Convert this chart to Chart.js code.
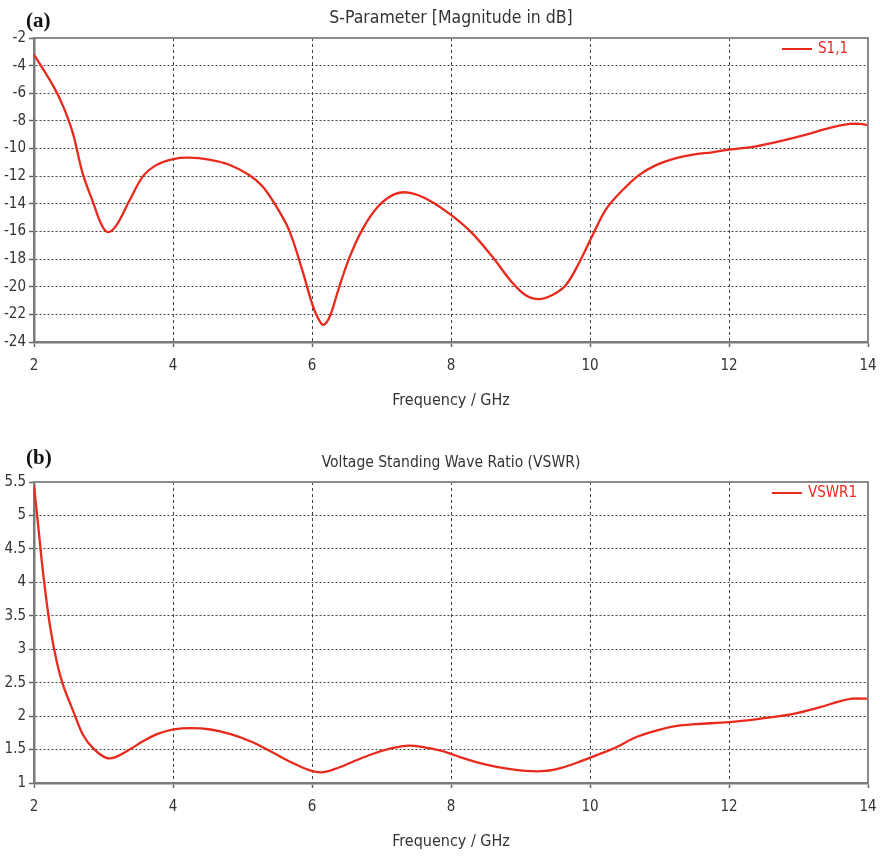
<!DOCTYPE html>
<html>
<head>
<meta charset="utf-8">
<script src="https://cdn.jsdelivr.net/npm/chart.js@4.4.0/dist/chart.umd.min.js"></script>
<style>
  body { margin: 0; background: #fff; }
  .panel { position: absolute; left: 0; width: 880px; }
</style>
</head>
<body>
<div class="panel" style="top:0;height:440px"><canvas id="s11_graph"></canvas></div>
<div class="panel" style="top:440px;height:416px"><canvas id="vswr_graph"></canvas></div>
<script>
// values
const s11Freq = [2.0, 2.28, 2.42, 2.56, 2.70, 2.85, 2.97, 3.06, 3.18, 3.37, 3.57, 3.76, 4.0, 4.23, 4.52, 4.81,
  5.09, 5.28, 5.47, 5.67, 5.86, 6.0, 6.10, 6.17, 6.26, 6.38, 6.53, 6.72, 6.95, 7.19, 7.41, 7.67, 8.0,
  8.30, 8.59, 8.88, 9.07, 9.26, 9.46, 9.65, 9.84, 10.03, 10.23, 10.47, 10.71, 10.95, 11.19, 11.48,
  11.76, 12.0, 12.39, 12.77, 13.11, 13.45, 13.74, 13.88, 14.0];
const s11Values = [-3.2, -5.5, -6.95, -8.9, -11.8, -13.9, -15.5, -16.05, -15.6, -13.8, -12.0, -11.2, -10.76, -10.66, -10.8, -11.17,
  -11.9, -12.7, -14.06, -15.9, -18.8, -21.2, -22.4, -22.75, -22.1, -20.2, -18.0, -15.9, -14.2, -13.3, -13.2, -13.7, -14.8,
  -16.1, -17.8, -19.7, -20.6, -20.9, -20.6, -19.9, -18.3, -16.35, -14.4, -13.0, -11.9, -11.2, -10.76, -10.44,
  -10.27, -10.08, -9.84, -9.43, -9.0, -8.5, -8.22, -8.22, -8.3];

const vswrFreq = [2.0, 2.06, 2.135, 2.23, 2.33, 2.42, 2.57, 2.71, 2.86, 3.03, 3.15, 3.34, 3.58, 3.77, 4.01, 4.26,
  4.54, 4.83, 5.12, 5.41, 5.70, 5.94, 6.13, 6.33, 6.57, 6.86, 7.15, 7.39, 7.63, 7.87, 8.15, 8.49, 8.83,
  9.07, 9.36, 9.60, 9.88, 10.13, 10.37, 10.65, 10.94, 11.23, 11.52, 12.0, 12.43, 12.91, 13.30, 13.59, 13.78, 14.0];
const vswrValues = [5.45, 4.85, 4.10, 3.35, 2.80, 2.46, 2.06, 1.71, 1.51, 1.38, 1.38, 1.48, 1.63, 1.73, 1.80, 1.82,
  1.80, 1.73, 1.62, 1.47, 1.31, 1.20, 1.16, 1.21, 1.31, 1.43, 1.52, 1.56, 1.53, 1.48, 1.38, 1.28, 1.21,
  1.18, 1.18, 1.23, 1.33, 1.43, 1.53, 1.68, 1.78, 1.85, 1.88, 1.91, 1.96, 2.03, 2.13, 2.22, 2.26, 2.26];

const lineColour = '#e8291c';
const sansFamily = '"DejaVu Sans Condensed", "Liberation Sans Narrow", "Liberation Sans", sans-serif';
const tickFont = { family: sansFamily, size: 15 };

const panelDecor = {
  id: 'panelDecor',
  afterDraw(chart, args, opts) {
    const { ctx, chartArea } = chart;
    ctx.save();
    // top + right frame
    ctx.strokeStyle = '#8a8a8a';
    ctx.lineWidth = 2;
    ctx.beginPath();
    ctx.moveTo(chartArea.left, chartArea.top);
    ctx.lineTo(chartArea.right, chartArea.top);
    ctx.lineTo(chartArea.right, chartArea.bottom);
    ctx.stroke();
    // panel letter
    ctx.fillStyle = '#111';
    ctx.font = 'bold 21px "Liberation Serif"';
    ctx.textBaseline = 'middle';
    ctx.textAlign = 'left';
    ctx.fillText(opts.label, 26, opts.labelY);
    // title
    ctx.font = opts.titleSize + 'px ' + sansFamily;
    ctx.fillStyle = '#333';
    ctx.textAlign = 'center';
    ctx.fillText(opts.title, (chartArea.left + chartArea.right) / 2, opts.titleY);
    // legend inside the plot, top right
    const ds = chart.data.datasets[0];
    ctx.font = '15px ' + sansFamily;
    ctx.textAlign = 'right';
    const tx = chartArea.right - opts.legendRight;
    const ty = chartArea.top + 11;
    const w = ctx.measureText(ds.label).width;
    ctx.fillStyle = ds.borderColor;
    ctx.fillText(ds.label, tx, ty);
    ctx.strokeStyle = ds.borderColor;
    ctx.lineWidth = 2;
    ctx.beginPath();
    ctx.moveTo(tx - w - 36, ty);
    ctx.lineTo(tx - w - 6, ty);
    ctx.stroke();
    ctx.restore();
  }
};

function render_graph(canvasId, freqs, values, label, yMin, yMax, yStep, decor, padTop, padBottom) {
  const graph = document.getElementById(canvasId);
  return new Chart(graph, {
    type: 'line',
    data: {
      datasets: [{
        label: label,
        data: freqs.map((f, i) => ({ x: f, y: values[i] })),
        borderColor: lineColour,
        borderWidth: 2.3,
        pointRadius: 0,
        tension: 0.35,
        fill: false
      }]
    },
    options: {
      responsive: true,
      maintainAspectRatio: false,
      animation: false,
      layout: { padding: { top: padTop, bottom: padBottom, left: 0, right: 0 } },
      plugins: {
        legend: { display: false },
        tooltip: { enabled: false },
        panelDecor: decor
      },
      scales: {
        x: {
          type: 'linear',
          min: 2,
          max: 14,
          ticks: { stepSize: 2, color: '#333', font: tickFont, padding: 10, maxRotation: 0 },
          grid: { color: '#444', lineWidth: 1, tickLength: 5, tickColor: '#666', tickBorderDash: [], tickWidth: 1.5 },
          border: { color: '#7a7a7a', width: 2.5, dash: [3, 3] },
          title: { display: true, text: 'Frequency / GHz', color: '#333', font: { family: sansFamily, size: 16 }, padding: { top: 0, bottom: 2 } },
          afterFit: scale => {
            scale.height = 70;
            scale.paddingLeft = 0;
            scale.paddingRight = 12;
          }
        },
        y: {
          min: yMin,
          max: yMax,
          ticks: { stepSize: yStep, color: '#333', font: tickFont, padding: 3, callback: v => String(v) },
          grid: { color: '#444', lineWidth: 1, tickLength: 5, tickColor: '#666', tickBorderDash: [], tickWidth: 1.5 },
          border: { color: '#7a7a7a', width: 2.5, dash: [2, 2] },
          afterFit: scale => { scale.width = 34; }
        }
      }
    },
    plugins: [panelDecor]
  });
}

render_graph('s11_graph', s11Freq, s11Values, 'S1,1', -24, -2, 2,
  { label: '(a)', title: 'S-Parameter [Magnitude in dB]', titleSize: 17.5, labelY: 22, titleY: 18, legendRight: 20 }, 38, 28);
render_graph('vswr_graph', vswrFreq, vswrValues, 'VSWR1', 1, 5.5, 0.5,
  { label: '(b)', title: 'Voltage Standing Wave Ratio (VSWR)', titleSize: 15.5, labelY: 19, titleY: 23, legendRight: 11 }, 42, 3);
</script>
</body>
</html>
